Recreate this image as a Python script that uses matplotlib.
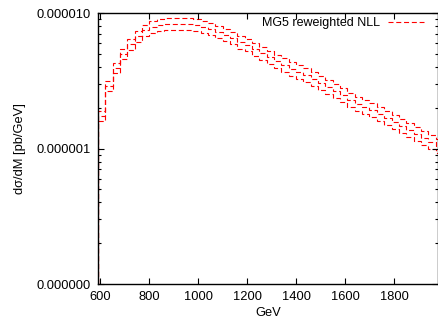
import numpy as np
import matplotlib
matplotlib.use("Agg")
import matplotlib.pyplot as plt
from matplotlib.ticker import FormatStrFormatter, LogLocator, NullFormatter, MultipleLocator

# bin edges in GeV (30 GeV bins)
edges = np.arange(590, 2001, 30)

# central prediction [pb/GeV], in units of 1e-6
central = [1.74, 2.89, 3.93, 4.98, 5.90, 6.76, 7.49, 7.88, 8.16, 8.29,
           8.29, 8.29, 8.29, 8.16, 7.88, 7.62, 7.24, 6.88, 6.54, 6.11,
           5.81, 5.42, 5.07, 4.73, 4.42, 4.13, 3.86, 3.67, 3.49, 3.26,
           3.04, 2.84, 2.66, 2.48, 2.28, 2.13, 2.02, 1.92, 1.80, 1.68,
           1.57, 1.47, 1.37, 1.28, 1.20, 1.12, 1.04]

# upper scale variation
upper = [1.89, 3.15, 4.29, 5.43, 6.45, 7.40, 8.22, 8.68, 9.01, 9.17,
         9.18, 9.18, 9.17, 9.03, 8.73, 8.45, 8.03, 7.64, 7.27, 6.80,
         6.47, 6.04, 5.65, 5.28, 4.94, 4.62, 4.32, 4.11, 3.91, 3.65,
         3.41, 3.19, 2.99, 2.79, 2.57, 2.40, 2.28, 2.17, 2.03, 1.89,
         1.77, 1.66, 1.55, 1.44, 1.35, 1.26, 1.17]

# lower scale variation
lower = [1.59, 2.65, 3.60, 4.55, 5.37, 6.14, 6.78, 7.12, 7.37, 7.49,
         7.49, 7.49, 7.48, 7.36, 7.10, 6.86, 6.51, 6.18, 5.87, 5.47,
         5.20, 4.84, 4.52, 4.21, 3.93, 3.67, 3.43, 3.26, 3.10, 2.89,
         2.70, 2.52, 2.36, 2.20, 2.02, 1.89, 1.79, 1.70, 1.60, 1.49,
         1.39, 1.30, 1.22, 1.13, 1.06, 0.99, 0.92]

plt.rcParams['font.family'] = ['Liberation Sans', 'DejaVu Sans']
plt.rcParams['font.size'] = 9.3

fig = plt.figure(figsize=(4.39, 3.22), dpi=100)
ax = fig.add_axes([0.2232, 0.118, 0.7745, 0.8416])

dash = (4.5, 2.5)
for i, vals in enumerate([upper, central, lower]):
    ax.stairs(np.array(vals) * 1e-6, edges, baseline=1e-9, color='#ff0000',
              linewidth=0.8, linestyle=(0, dash),
              label='MG5 reweighted NLL' if i == 0 else None)

ax.set_yscale('log')
ax.set_xlim(590, 1980)
ax.set_ylim(1e-7, 1e-5)

ax.xaxis.set_major_locator(MultipleLocator(200))
ax.yaxis.set_major_locator(LogLocator(base=10))
ax.yaxis.set_minor_locator(LogLocator(base=10, subs=np.arange(2, 10)))
ax.yaxis.set_major_formatter(FormatStrFormatter('%.6f'))
ax.yaxis.set_minor_formatter(NullFormatter())

ax.tick_params(which='both', direction='in', top=True, right=True, width=0.8)
ax.tick_params(which='major', length=4, pad=5)
ax.tick_params(which='minor', length=2)
for s in ax.spines.values():
    s.set_linewidth(1.0)

ax.set_xlabel('GeV', labelpad=3)
ax.set_ylabel('d\u03c3/dM [pb/GeV]', labelpad=8)

leg = ax.legend(loc='upper right', bbox_to_anchor=(0.959, 0.985), frameon=False,
                markerfirst=False, handlelength=2.9, handletextpad=0.6,
                borderpad=0, borderaxespad=0, fontsize=9)

fig.savefig('out.png', dpi=100)
